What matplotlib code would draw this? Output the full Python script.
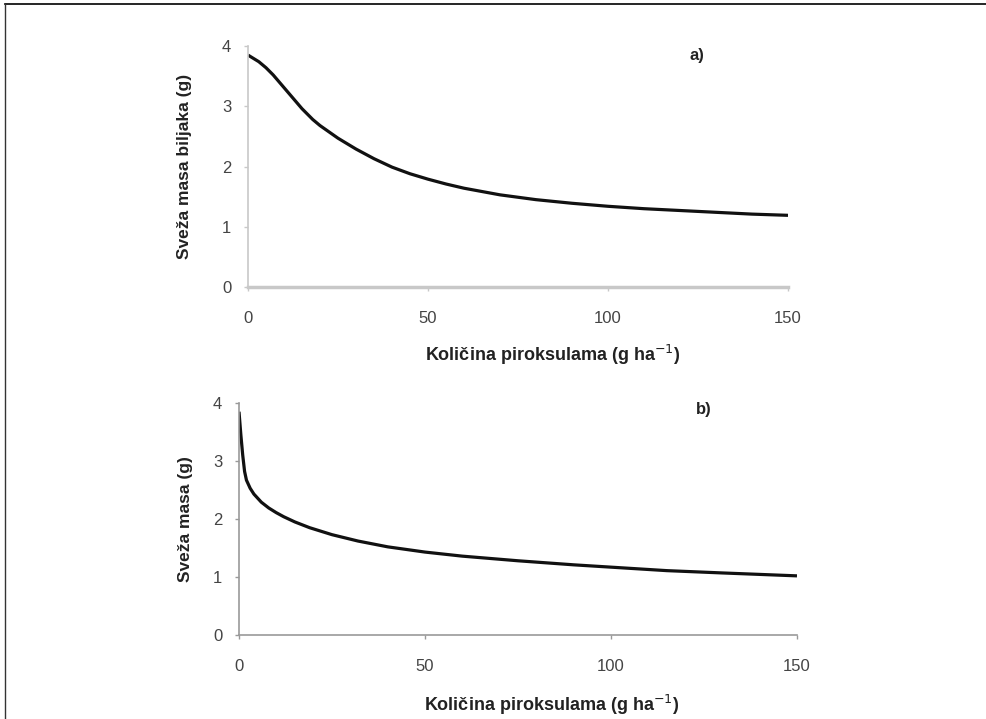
import numpy as np
import matplotlib.pyplot as plt
from matplotlib.lines import Line2D

# panel a) - sveza masa biljaka
xa = [0, 3, 5, 7, 10, 13, 15, 18, 20, 25, 30, 35, 40, 45, 50, 55, 60, 70, 80, 90, 100, 110, 120, 130, 140, 150]
ya = [3.85, 3.74, 3.64, 3.52, 3.31, 3.10, 2.96, 2.78, 2.68, 2.47, 2.29, 2.13, 1.99, 1.88, 1.79, 1.71, 1.64, 1.53, 1.45, 1.39, 1.34, 1.30, 1.27, 1.24, 1.21, 1.19]

# panel b) - sveza masa
xb = [0, 0.5, 1, 1.5, 2, 3, 4, 6, 8, 10, 12, 15, 19, 25, 32, 40, 50, 60, 75, 90, 100, 115, 130, 150]
yb = [3.85, 3.45, 3.1, 2.82, 2.67, 2.53, 2.43, 2.29, 2.19, 2.11, 2.04, 1.95, 1.85, 1.73, 1.62, 1.52, 1.43, 1.36, 1.28, 1.21, 1.17, 1.11, 1.07, 1.02]

xticks = [0, 50, 100, 150]
yticks = [0, 1, 2, 3, 4]
xlabel = "Količina piroksulama (g ha$^{-1}$)"

plt.rcParams['font.family'] = ['Liberation Sans', 'DejaVu Sans']

fig = plt.figure(figsize=(9.86, 7.19), dpi=100)
ax1 = fig.add_axes([0.2515, 0.6008, 0.5477, 0.3352])
ax2 = fig.add_axes([0.2424, 0.1168, 0.5659, 0.3227])

def styliraj(ax, spine_col, lw_left, lw_bottom):
  ax.set_xlim(0, 150)
  ax.set_ylim(0, 4)
  ax.set_xticks(xticks)
  ax.set_yticks(yticks)
  ax.spines['top'].set_visible(False)
  ax.spines['right'].set_visible(False)
  ax.spines['left'].set_color(spine_col)
  ax.spines['bottom'].set_color(spine_col)
  ax.spines['left'].set_linewidth(lw_left)
  ax.spines['bottom'].set_linewidth(lw_bottom)
  ax.tick_params(direction='out', length=3, width=1, color=spine_col,
                 labelsize=12, labelcolor='#444444', pad=14)
  ax.tick_params(axis='y', pad=9)

ax1.plot(xa, ya, color='#111111', lw=2.3, solid_capstyle='butt')
styliraj(ax1, '#c8c8c8', 1.2, 2.5)
ax1.set_ylabel("Sveža masa biljaka (g)", fontsize=12.5, fontweight='bold', color='#222222')
ax1.yaxis.set_label_coords(-0.104, 0.5)
ax1.set_xlabel(xlabel, fontsize=13, fontweight='bold', color='#222222')
ax1.xaxis.set_label_coords(0.565, -0.23)
ax1.text(124.7, 3.85, "a)", fontsize=12, fontweight='bold', ha='center', va='center', color='#222222')

ax2.plot(xb, yb, color='#111111', lw=2.3, solid_capstyle='butt')
styliraj(ax2, '#999999', 1.2, 1.2)
ax2.set_ylabel("Sveža masa (g)", fontsize=12.5, fontweight='bold', color='#222222')
ax2.yaxis.set_label_coords(-0.082, 0.5)
ax2.set_xlabel(xlabel, fontsize=13, fontweight='bold', color='#222222')
ax2.xaxis.set_label_coords(0.56, -0.25)
ax2.text(125, 3.88, "b)", fontsize=12, fontweight='bold', ha='center', va='center', color='#222222')

# okvir slike (gornja i lijeva linija)
fig.add_artist(Line2D([0.005, 1.0], [0.9944, 0.9944], color='black', lw=1.2))
fig.add_artist(Line2D([0.005, 0.005], [0.0, 0.9944], color='#333333', lw=1.0))

fig.savefig("out.png", dpi=100)
